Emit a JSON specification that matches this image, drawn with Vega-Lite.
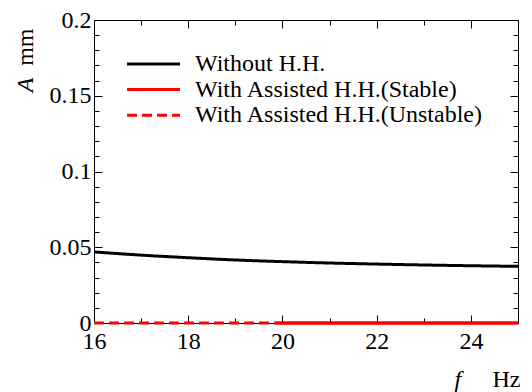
{
  "$schema": "https://vega.github.io/schema/vega-lite/v6.json",
  "width": 424,
  "height": 303,
  "autosize": {"type": "none"},
  "padding": {"left": 94, "top": 20, "right": 14, "bottom": 69},
  "data": {
    "values": [
      {"series": "Without H.H.", "f": 16, "A": 0.0469},
      {"series": "Without H.H.", "f": 17, "A": 0.0448},
      {"series": "Without H.H.", "f": 18, "A": 0.0431},
      {"series": "Without H.H.", "f": 19, "A": 0.0416},
      {"series": "Without H.H.", "f": 20, "A": 0.0405},
      {"series": "Without H.H.", "f": 21, "A": 0.0396},
      {"series": "Without H.H.", "f": 22, "A": 0.0389},
      {"series": "Without H.H.", "f": 23, "A": 0.0383},
      {"series": "Without H.H.", "f": 24, "A": 0.0378},
      {"series": "Without H.H.", "f": 25, "A": 0.0374},
      {"series": "With Assisted H.H.(Stable)", "f": 19.85, "A": 0},
      {"series": "With Assisted H.H.(Stable)", "f": 25, "A": 0},
      {"series": "With Assisted H.H.(Unstable)", "f": 16, "A": 0},
      {"series": "With Assisted H.H.(Unstable)", "f": 19.85, "A": 0}
    ]
  },
  "layer": [
    {
      "transform": [{"filter": "datum.series === 'Without H.H.'"}],
      "mark": {"type": "line", "strokeWidth": 3, "interpolate": "monotone"},
      "encoding": {
        "x": {"field": "f", "type": "quantitative", "scale": {"domain": [16, 25], "nice": false, "zero": false},
          "axis": {"orient": "bottom", "values": [16, 18, 20, 22, 24], "format": "d", "tickSize": -8, "labelPadding": 14, "domain": true,
            "title": "Hz", "titleAlign": "right", "titleAnchor": "end", "titleX": 426, "titleY": 63, "titleBaseline": "alphabetic"}},
        "y": {"field": "A", "type": "quantitative", "scale": {"domain": [0, 0.2], "nice": false, "zero": false},
          "axis": {"orient": "left", "values": [0, 0.05, 0.1, 0.15, 0.2], "format": "~g", "tickSize": -8, "labelPadding": 11, "domain": true,
            "title": "mm", "titleAngle": 270, "titleAlign": "right", "titleBaseline": "alphabetic", "titleX": -62, "titleY": 8}},
        "color": {"field": "series", "type": "nominal",
          "scale": {"domain": ["Without H.H.", "With Assisted H.H.(Stable)", "With Assisted H.H.(Unstable)"], "range": ["#000000", "#ff0000", "#ff0000"]},
          "legend": {"orient": "none", "legendX": 47.5, "legendY": 32, "title": null}},
        "strokeDash": {"field": "series", "type": "nominal",
          "scale": {"domain": ["Without H.H.", "With Assisted H.H.(Stable)", "With Assisted H.H.(Unstable)"], "range": [[1, 0], [1, 0], [10, 5]]},
          "legend": {"orient": "none", "legendX": 47.5, "legendY": 32, "title": null}}
      }
    },
    {
      "transform": [{"filter": "datum.series === 'With Assisted H.H.(Stable)'"}],
      "mark": {"type": "line", "strokeWidth": 3},
      "encoding": {
        "x": {"field": "f", "type": "quantitative",
          "axis": {"orient": "bottom", "values": [16, 17, 18, 19, 20, 21, 22, 23, 24, 25], "tickSize": -5, "labels": false, "domain": false,
            "title": "f", "titleFontStyle": "italic", "titleAlign": "left", "titleX": 360, "titleY": 63, "titleBaseline": "alphabetic"}},
        "y": {"field": "A", "type": "quantitative",
          "axis": {"orient": "left", "values": [0, 0.01, 0.02, 0.03, 0.04, 0.05, 0.06, 0.07, 0.08, 0.09, 0.1, 0.11, 0.12, 0.13, 0.14, 0.15, 0.16, 0.17, 0.18, 0.19, 0.2], "tickSize": -5, "labels": false, "domain": false,
            "title": "A", "titleFontStyle": "italic", "titleAngle": 270, "titleAlign": "right", "titleBaseline": "alphabetic", "titleX": -62, "titleY": 57}},
        "color": {"field": "series", "type": "nominal"},
        "strokeDash": {"field": "series", "type": "nominal"}
      }
    },
    {
      "transform": [{"filter": "datum.series === 'With Assisted H.H.(Unstable)'"}],
      "mark": {"type": "line", "strokeWidth": 3},
      "encoding": {
        "x": {"field": "f", "type": "quantitative",
          "axis": {"orient": "top", "values": [16, 18, 20, 22, 24], "tickSize": -8, "labels": false, "domain": true, "title": null}},
        "y": {"field": "A", "type": "quantitative",
          "axis": {"orient": "right", "values": [0, 0.05, 0.1, 0.15, 0.2], "tickSize": -8, "labels": false, "domain": true, "title": null}},
        "color": {"field": "series", "type": "nominal"},
        "strokeDash": {"field": "series", "type": "nominal"}
      }
    },
    {
      "transform": [{"filter": "datum.series === 'With Assisted H.H.(Stable)'"}],
      "mark": {"type": "line", "strokeWidth": 3},
      "encoding": {
        "x": {"field": "f", "type": "quantitative",
          "axis": {"orient": "top", "values": [16, 17, 18, 19, 20, 21, 22, 23, 24, 25], "tickSize": -5, "labels": false, "domain": false, "title": null}},
        "y": {"field": "A", "type": "quantitative",
          "axis": {"orient": "right", "values": [0, 0.01, 0.02, 0.03, 0.04, 0.05, 0.06, 0.07, 0.08, 0.09, 0.1, 0.11, 0.12, 0.13, 0.14, 0.15, 0.16, 0.17, 0.18, 0.19, 0.2], "tickSize": -5, "labels": false, "domain": false, "title": null}},
        "color": {"field": "series", "type": "nominal"},
        "strokeDash": {"field": "series", "type": "nominal"}
      }
    }
  ],
  "resolve": {"axis": {"x": "independent", "y": "independent"}},
  "config": {
    "view": {"stroke": null},
    "font": "Liberation Serif",
    "axis": {
      "grid": false, "domainColor": "#000000", "tickColor": "#000000", "labelColor": "#000000", "titleColor": "#000000",
      "labelFont": "Liberation Serif", "labelFontSize": 24, "titleFont": "Liberation Serif", "titleFontSize": 24, "titleFontWeight": "normal",
      "labelFlush": false, "labelOverlap": false, "labelBound": false, "tickWidth": 1, "domainWidth": 1, "titlePadding": 0
    },
    "legend": {
      "symbolType": "M-5,0H5", "symbolSize": 112, "symbolStrokeWidth": 3,
      "labelFont": "Liberation Serif", "labelFontSize": 24, "labelColor": "#000000", "labelOffset": 29.5,
      "rowPadding": 1.6, "padding": 0, "labelLimit": 0
    }
  }
}
